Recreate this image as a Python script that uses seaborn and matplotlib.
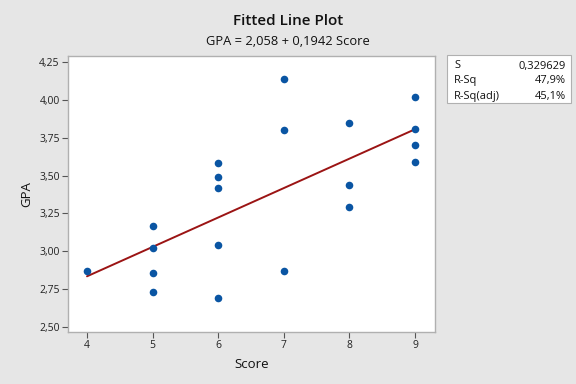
import numpy as np
import pandas as pd
import seaborn as sns
import matplotlib.pyplot as plt
from matplotlib.patches import Rectangle
from matplotlib.ticker import FuncFormatter

# data
score = [4, 5, 5, 5, 5, 6, 6, 6, 6, 6, 7, 7, 7, 8, 8, 8, 9, 9, 9, 9]
gpa = [2.87, 3.17, 3.02, 2.86, 2.73, 3.58, 3.49, 3.42, 3.04, 2.69,
       4.14, 3.80, 2.87, 3.85, 3.44, 3.29, 4.02, 3.81, 3.70, 3.59]
stat_names = ["S", "R-Sq", "R-Sq(adj)"]
stat_values = ["0,329629", "47,9%", "45,1%"]
x_ticks = [4, 5, 6, 7, 8, 9]
y_ticks = [2.50, 2.75, 3.00, 3.25, 3.50, 3.75, 4.00, 4.25]

df = pd.DataFrame({"Score": score, "GPA": gpa})

sns.set_theme(style="white")
plt.rcParams["font.family"] = ["Open Sans", "DejaVu Sans"]

bg = "#e6e6e6"
fig = plt.figure(figsize=(5.76, 3.84), dpi=100, facecolor=bg)
ax = fig.add_axes([68 / 576, 1 - 332 / 384, 367 / 576, 276 / 384])
ax.set_facecolor("white")

sns.regplot(data=df, x="Score", y="GPA", scatter=False, ci=None, truncate=True,
            color="#9b1414", line_kws={"linewidth": 1.4}, ax=ax)
sns.scatterplot(data=df, x="Score", y="GPA", color="#0a55a3", s=30,
                edgecolor="#0a55a3", linewidth=0, ax=ax, zorder=3)

ax.set_xlim(3.71, 9.305)
ax.set_ylim(2.467, 4.29)
ax.set_xticks(x_ticks)
ax.set_yticks(y_ticks)
ax.yaxis.set_major_formatter(FuncFormatter(lambda v, p: f"{v:.2f}".replace(".", ",")))
ax.tick_params(axis="both", direction="out", length=4, width=0.8, color="#555555",
               labelsize=7.5, labelcolor="#222222", bottom=True, left=True, pad=2)
for sp in ax.spines.values():
    sp.set_color("#b0b0b0")
    sp.set_linewidth(1.0)

ax.set_xlabel("Score", fontsize=9.5, labelpad=5, color="#111111")
ax.set_ylabel("GPA", fontsize=9.5, labelpad=4, color="#111111")

fig.text(0.5, 0.945, "Fitted Line Plot", ha="center", va="center",
         fontsize=11, fontweight="semibold", color="#111111")
fig.text(0.5, 0.893, "GPA = 2,058 + 0,1942 Score", ha="center", va="center",
         fontsize=9.3, color="#111111")

# stats box
fig.patches.append(Rectangle((447 / 576, 1 - 103 / 384), 124 / 576, 48 / 384,
                             transform=fig.transFigure, facecolor="white",
                             edgecolor="#b0b0b0", linewidth=0.8))
for i, (n, v) in enumerate(zip(stat_names, stat_values)):
    yy = 1 - (66 + i * 15) / 384
    fig.text(454 / 576, yy, n, ha="left", va="center", fontsize=8, color="#111111")
    fig.text(566 / 576, yy, v, ha="right", va="center", fontsize=8, color="#111111")

fig.savefig("out.png", dpi=100, facecolor=bg)
